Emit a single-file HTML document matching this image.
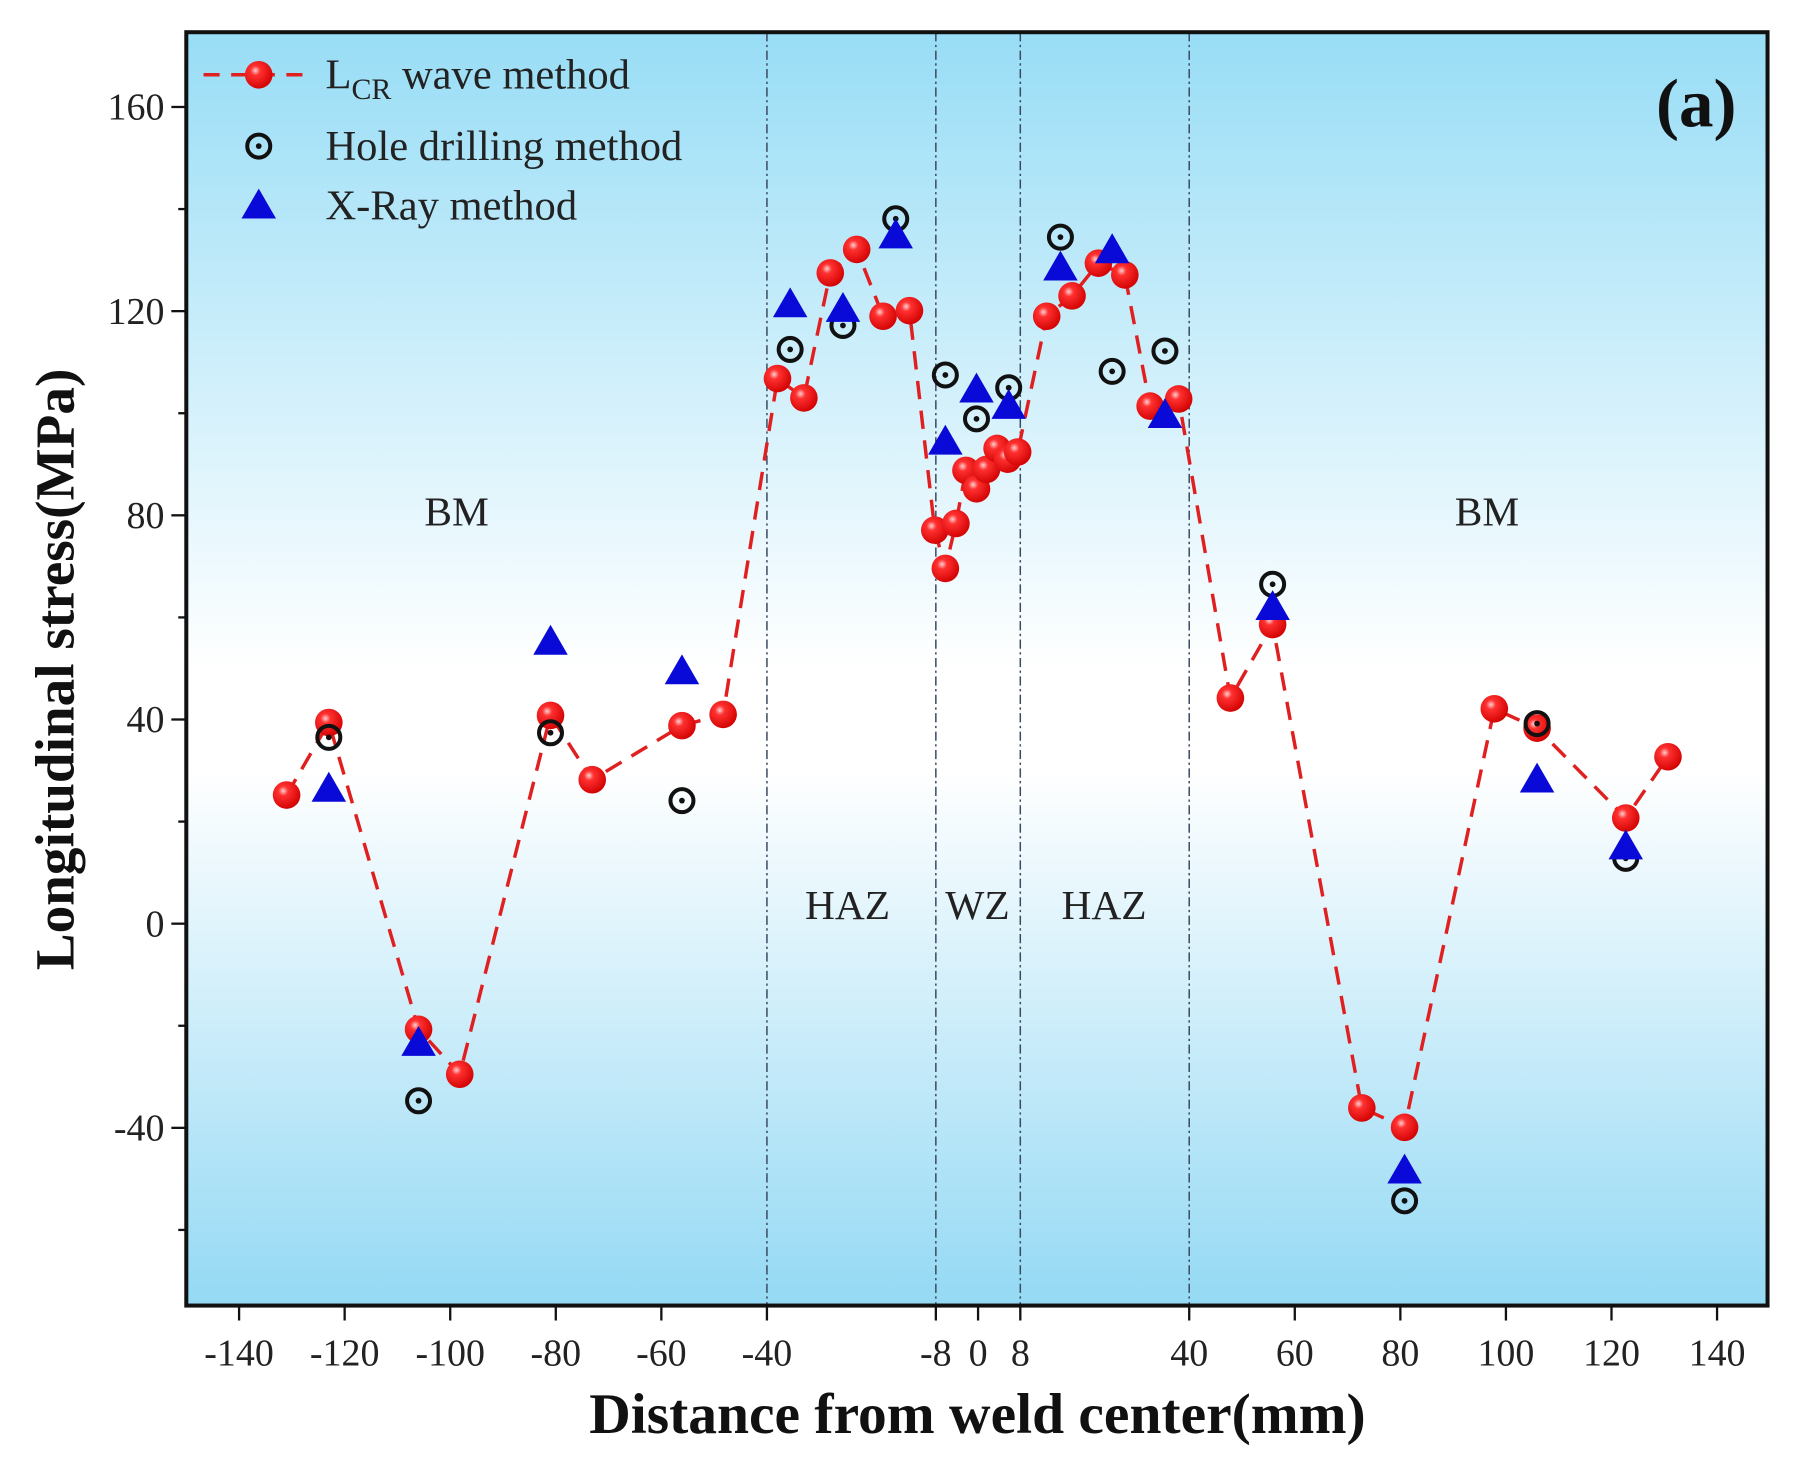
<!DOCTYPE html>
<html><head><meta charset="utf-8"><style>
html,body{margin:0;padding:0;background:#fff;}
svg{display:block;}
text{font-family:"Liberation Serif",serif;}
</style></head><body>
<svg id="chart" width="1794" height="1462" viewBox="0 0 1560 1271" preserveAspectRatio="none" xmlns="http://www.w3.org/2000/svg">
<defs>
<linearGradient id="bg" x1="0" y1="0" x2="0" y2="1">
<stop offset="0" stop-color="#98ddf6"/>
<stop offset="0.5" stop-color="#ffffff"/>
<stop offset="0.58" stop-color="#ffffff"/>
<stop offset="1" stop-color="#94d9f4"/>
</linearGradient>
<radialGradient id="ball" cx="0.38" cy="0.35" r="0.7">
<stop offset="0" stop-color="#ffd0d0"/>
<stop offset="0.25" stop-color="#ff3030"/>
<stop offset="1" stop-color="#d00000"/>
</radialGradient>
</defs>
<rect x="162" y="28" width="1375" height="1107" fill="url(#bg)"/>
<g id="grid"></g>
<g id="series"></g>
<rect x="162" y="28" width="1375" height="1107" fill="none" stroke="#111" stroke-width="3.5"/>
<g id="axes"></g>
<text x="397" y="457" font-size="36" text-anchor="middle" fill="#222">BM</text>
<text x="1293" y="457" font-size="36" text-anchor="middle" fill="#222">BM</text>
<text x="737" y="799" font-size="36" text-anchor="middle" fill="#222">HAZ</text>
<text x="850" y="799" font-size="36" text-anchor="middle" fill="#222">WZ</text>
<text x="960" y="799" font-size="36" text-anchor="middle" fill="#222">HAZ</text>
<text x="1475" y="110" font-size="60" font-weight="bold" text-anchor="middle" fill="#111">(a)</text>
<g>
<line x1="177" y1="65" x2="272" y2="65" stroke="#e02020" stroke-width="3" stroke-dasharray="14,10"/>
<circle cx="225" cy="65" r="12" fill="url(#ball)"/>
<text x="283" y="77" font-size="37" fill="#222">L<tspan font-size="26" dy="9">CR</tspan><tspan dy="-9"> wave method</tspan></text>
<circle cx="225" cy="127" r="10" fill="none" stroke="#111" stroke-width="3.5"/>
<circle cx="225" cy="127" r="2.5" fill="#111"/>
<text x="283" y="139" font-size="37" fill="#222">Hole drilling method</text>
<polygon points="225,164 240,190 210,190" fill="#0a0ad8"/>
<text x="283" y="191" font-size="37" fill="#222">X-Ray method</text>
</g>
<text transform="translate(64,582) rotate(-90)" font-size="48" font-weight="bold" text-anchor="middle" fill="#111">Longitudinal stress(MPa)</text>
<text x="850" y="1246" font-size="50" font-weight="bold" text-anchor="middle" fill="#111">Distance from weld center(mm)</text>
</svg>
<script>
const lcrX=[-131,-123,-106,-98.2,-81,-73.1,-56.1,-48.3,-38,-33,-28,-23,-18,-13,-8.2,-6.2,-4.2,-2.3,-0.3,1.6,3.6,5.6,7.5,13,17.8,22.8,27.8,32.6,38,47.8,55.8,72.7,80.8,97.8,105.9,122.7,130.7];
const lcrY=[25.2,39.4,-20.7,-29.5,40.8,28.2,38.8,41,106.8,103,127.5,132.1,119,120.1,77.1,69.6,78.4,88.8,85.2,89,93.1,91,92.4,119,123,129.4,127.1,101.4,102.8,44.2,58.6,-36.1,-39.9,42.1,38.3,20.7,32.7];
const holeX=[-123,-106,-81,-56.1,-35.6,-25.6,-15.6,-6.2,-0.3,5.8,15.6,25.4,35.4,55.8,80.8,105.9,122.7];
const holeY=[36.5,-34.7,37.4,24.1,112.5,117.2,138.1,107.5,98.9,105,134.5,108.2,112.2,66.5,-54.3,39.2,12.8];
const xrayX=[-123,-106,-81,-56.1,-35.6,-25.6,-15.6,-6.2,-0.3,5.8,15.6,25.4,35.4,55.8,80.8,105.9,122.7];
const xrayY=[26.6,-23.2,55.4,49.6,121.5,120.6,135,94.6,104.8,101.6,128.7,132.1,99.8,62.2,-48.2,28.4,15.3];
const xTicks=[-140,-120,-100,-80,-60,-40,-8,0,8,40,60,80,100,120,140];
const yTicks=[-40,0,40,80,120,160];
const yMinor=[-60,-20,20,60,100,140];
const zoneBounds=[-40,-8,8,40];

const NS="http://www.w3.org/2000/svg";
const xs=v=>850.5+4.59*v;
const ys=v=>803-4.4375*v;
function mk(tag,attrs,parent){const e=document.createElementNS(NS,tag);for(const k in attrs)e.setAttribute(k,attrs[k]);parent.appendChild(e);return e;}
const grid=document.getElementById('grid'),series=document.getElementById('series'),axes=document.getElementById('axes');
zoneBounds.forEach(b=>{
 const l=mk('line',{x1:xs(b),x2:xs(b),y1:28,y2:1135,stroke:'#3a4a60','stroke-width':1.3,'stroke-dasharray':'8,3,2,3'},grid);
 
 
});
let d='';
lcrX.forEach((x,i)=>{d+=(i?'L':'M')+xs(x)+','+ys(lcrY[i]);});
const path=mk('path',{d:d,fill:'none',stroke:'#e02020','stroke-width':3,'stroke-dasharray':'16,10'},series);


lcrX.forEach((x,i)=>{
 const c=mk('circle',{cx:xs(x),cy:ys(lcrY[i]),r:12,fill:'url(#ball)'},series);
 
 
});
holeX.forEach((x,i)=>{
 const g=mk('g',{},series);
 
 
 mk('circle',{cx:xs(x),cy:ys(holeY[i]),r:10,fill:'none',stroke:'#111','stroke-width':3.5},g);
 mk('circle',{cx:xs(x),cy:ys(holeY[i]),r:2.5,fill:'#111'},g);
});
xrayX.forEach((x,i)=>{
 const cx=xs(x),cy=ys(xrayY[i]);
 const p=mk('polygon',{points:`${cx},${cy-14} ${cx+15},${cy+12} ${cx-15},${cy+12}`,fill:'#0a0ad8'},series);
 
 
});
xTicks.forEach(t=>{
 const x=xs(t);
 mk('line',{x1:x,x2:x,y1:1135,y2:1148,stroke:'#111','stroke-width':2},axes);
 const tx=mk('text',{x:x,y:1187,'font-size':33,'text-anchor':'middle',fill:'#222'},axes);
 tx.textContent=t;
 
 
});
yTicks.forEach(t=>{
 const y=ys(t);
 mk('line',{x1:149,x2:162,y1:y,y2:y,stroke:'#111','stroke-width':2},axes);
 const tx=mk('text',{x:143,y:y+11,'font-size':33,'text-anchor':'end',fill:'#222'},axes);
 tx.textContent=t;
 
 
});
yMinor.forEach(t=>{
 const y=ys(t);
 mk('line',{x1:155,x2:162,y1:y,y2:y,stroke:'#111','stroke-width':2},axes);
});
</script>
</body></html>
